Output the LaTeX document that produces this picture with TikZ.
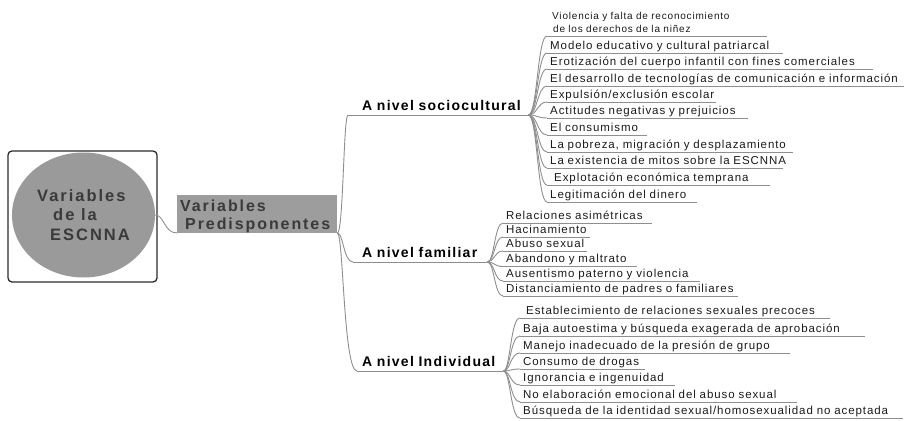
\documentclass[tikz,border=0pt]{standalone}
\usepackage{fontspec}
\setmainfont{Liberation Sans}
\newfontfamily\leaffam{Liberation Sans}[LetterSpace=8]
\newfontfamily\headfam{Liberation Sans}[LetterSpace=9]
\newfontfamily\bigfam{Liberation Sans}[LetterSpace=12]
\usetikzlibrary{shapes.geometric,calc}
\definecolor{linec}{HTML}{8E8E8E}
\definecolor{txt}{HTML}{1A1A1A}
\definecolor{cfill}{HTML}{9A9A9A}
\definecolor{ctext}{HTML}{3A3A3A}
\definecolor{bfill}{HTML}{9D9D9D}
\definecolor{framec}{HTML}{2B2B2B}
\tikzset{
  conn/.style={draw=linec, line width=0.9pt},
  uline/.style={draw=linec, line width=0.9pt},
  mm/.style={to path={.. controls ($(\tikztostart)+(#1,0)$) and ($(\tikztostart|-\tikztotarget)+(#1,0)$) .. (\tikztotarget)}},
  leaf/.style={anchor=south west, inner xsep=3pt, inner ysep=3.5pt, text depth=0pt,
    text width=#1, align=left, text=txt, font=\leaffam\fontsize{11.5}{13}\selectfont,
    append after command={(\tikzlastnode.south west) edge[uline] (\tikzlastnode.south east)}},
  head/.style={anchor=south west, inner xsep=0pt, inner ysep=4.5pt, text depth=0pt,
    text width=#1, align=left, text=black, font=\headfam\bfseries\fontsize{14}{16}\selectfont,
    append after command={(\tikzlastnode.south west) edge[uline] (\tikzlastnode.south east)}},
  framebox/.style={draw=framec, line width=1.3pt, rounded corners=4pt},
  rootc/.style={ellipse, fill=cfill, draw=none, minimum width=143pt, minimum height=125pt,
    align=left, text=ctext, font=\bigfam\bfseries\fontsize{16.5}{19.5}\selectfont},
  gbox/.style={fill=bfill, draw=none, minimum height=38pt, text width=154pt, inner xsep=3pt,
    inner ysep=0pt, text depth=17pt, align=left, text=ctext, font=\bigfam\bfseries\fontsize{16}{18}\selectfont}
}
\begin{document}
\begin{tikzpicture}[x=1pt,y=-1pt]
\useasboundingbox (0,0) rectangle (917,420);
\node[framebox, minimum width=149pt, minimum height=131pt] (frame) at (82.5,216.5) {};
\node[rootc] (root) at (83.5,215) {Variables\\\hspace*{16pt}de la\\\hspace*{13pt}ESCNNA};
\node[gbox, anchor=south west] (pred) at (177,233) {Variables\\\hspace*{5pt}Predisponentes};
\draw[conn] (root.east) to[mm=9] (pred.south west);

\node[head=180pt] (h1) at (348,115) {\hspace*{14pt}A nivel sociocultural};
\node[head=134pt] (h2) at (353,262) {\hspace*{9pt}A nivel familiar};
\node[head=146pt] (h3) at (357,371) {\hspace*{5pt}A nivel Individual};
\foreach \h in {h1,h2,h3} \draw[conn] (pred.south east) to[mm=6] (\h.south west);

\node[leaf=214pt, text depth=13pt, font=\leaffam\fontsize{10}{13}\selectfont] (s1) at (547,36)
  {\hspace*{2pt}Violencia y falta de reconocimiento\\\hspace*{3pt}de los derechos de la niñez};
\foreach \n/\y/\w/\t in {
  s2/53/230/{Modelo educativo y cultural patriarcal},
  s3/69/320/{Erotización del cuerpo infantil con fines comerciales},
  s4/86/351/{El desarrollo de tecnologías de comunicación e información},
  s5/102/163/{Expulsión/exclusión escolar},
  s6/118/195/{Actitudes negativas y prejuicios},
  s7/135/94/{El consumismo},
  s8/152/240/{La pobreza, migración y desplazamiento},
  s9/168/230/{La existencia de mitos sobre la ESCNNA},
  s10/185/217/{\hspace*{4pt}Explotación económica temprana},
  s11/202/144/{Legitimación del dinero}}
  \node[leaf=\w pt] (\n) at (547,\y) {\mbox{\t}};
\foreach \n in {s1,s2,s3,s4,s5,s6,s7,s8,s9,s10,s11}
  \draw[conn] (h1.south east) to[mm=9] (\n.south west);

\foreach \n/\y/\w/\t in {
  f1/223/143/{Relaciones asimétricas},
  f2/237/81/{Hacinamiento},
  f3/251/78/{Abuso sexual},
  f4/266.5/128/{Abandono y maltrato},
  f5/281/191/{Ausentismo paterno y violencia},
  f6/296/229/{Distanciamiento de padres o familiares}}
  \node[leaf=\w pt] (\n) at (503,\y) {\mbox{\t}};
\foreach \n in {f1,f2,f3,f4,f5,f6}
  \draw[conn] (h2.south east) to[mm=7] (\n.south west);

\foreach \n/\y/\w/\t in {
  i1/318/304/{\hspace*{3pt}Establecimiento de relaciones sexuales precoces},
  i2/336/339/{Baja autoestima y búsqueda exagerada de aprobación},
  i3/353/264/{Manejo inadecuado de la presión de grupo},
  i4/369/119/{Consumo de drogas},
  i5/385/149/{Ignorancia e ingenuidad},
  i6/402/271/{No elaboración emocional del abuso sexual},
  i7/418/377/{Búsqueda de la identidad sexual/homosexualidad no aceptada}}
  \node[leaf=\w pt] (\n) at (520,\y) {\mbox{\t}};
\foreach \n in {i1,i2,i3,i4,i5,i6,i7}
  \draw[conn] (h3.south east) to[mm=7] (\n.south west);
\end{tikzpicture}
\end{document}
